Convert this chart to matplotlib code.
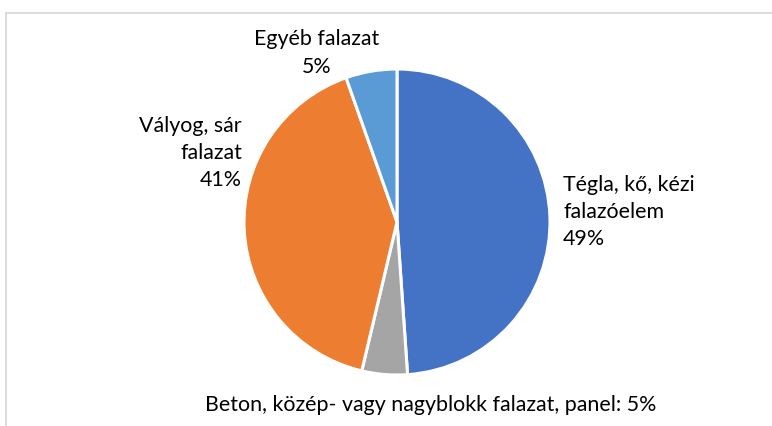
import matplotlib
matplotlib.use('Agg')
import matplotlib.pyplot as plt
from matplotlib.lines import Line2D

# slice values (percent), clockwise from 12 o'clock
categories = ['Tégla, kő, kézi falazóelem', 'Beton, közép- vagy nagyblokk falazat, panel',
              'Vályog, sár falazat', 'Egyéb falazat']
values = [48.9, 4.8, 40.9, 5.4]
colors = ['#4472C4', '#A5A5A5', '#ED7D31', '#5B9BD5']

plt.rcParams['font.family'] = ['Lato', 'DejaVu Sans']

W, H = 772, 426
fig = plt.figure(figsize=(W / 100, H / 100), dpi=100)
ax = fig.add_axes([0, 0, 1, 1])
ax.set_xlim(0, W)
ax.set_ylim(0, H)
ax.axis('off')

ax.pie(values, colors=colors, startangle=90, counterclock=False,
       center=(397, H - 222), radius=153,
       wedgeprops=dict(edgecolor='white', linewidth=2.2))
ax.set_xlim(0, W)
ax.set_ylim(0, H)

pct = [f'{round(v):.0f}%' for v in values]
fs = 15.4
ls = 1.45
ax.text(563, H - 212, 'Tégla, kő, kézi\nfalazóelem\n' + pct[0], ha='left', va='center',
        fontsize=fs, linespacing=ls)
ax.text(431, H - 405, 'Beton, közép- vagy nagyblokk falazat, panel: ' + pct[1],
        ha='center', va='center', fontsize=fs)
ax.text(242, H - 153, 'Vályog, sár\nfalazat\n' + pct[2], ha='right', va='center',
        fontsize=fs, linespacing=ls, multialignment='right')
ax.text(317, H - 53, 'Egyéb falazat\n' + pct[3], ha='center', va='center',
        fontsize=fs, linespacing=ls)

# chart area border (left and top edges visible)
fig.add_artist(Line2D([6 / W, 6 / W], [0, 1 - 12.5 / H], color='#D9D9D9', lw=1.3,
                      transform=fig.transFigure))
fig.add_artist(Line2D([6 / W, 1], [1 - 12.5 / H, 1 - 12.5 / H], color='#D9D9D9', lw=1.3,
                      transform=fig.transFigure))

fig.savefig('out.png', dpi=100)
